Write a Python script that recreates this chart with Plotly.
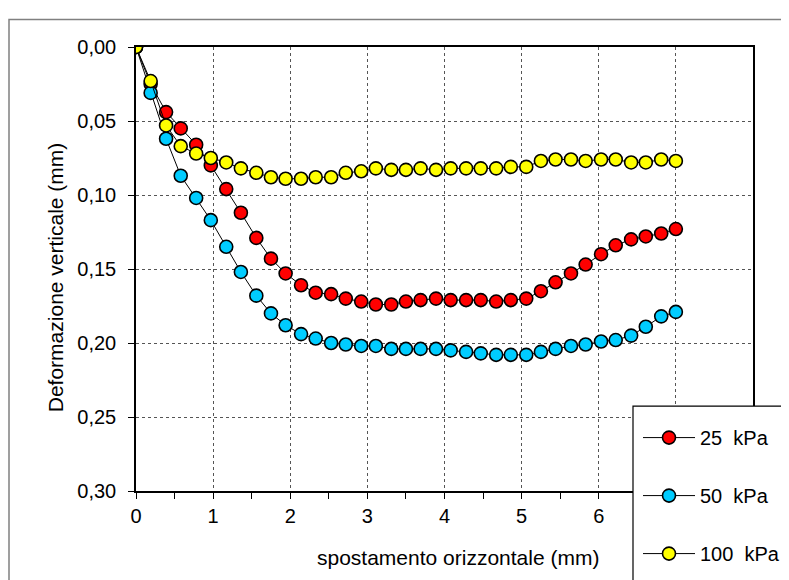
import plotly.graph_objects as go

# ---- data ----
x_mm = [0.00, 0.19, 0.39, 0.58, 0.78, 0.97, 1.17, 1.36, 1.56, 1.75, 1.94, 2.14, 2.33,
        2.53, 2.72, 2.92, 3.11, 3.31, 3.50, 3.69, 3.89, 4.08, 4.28, 4.47, 4.67, 4.86,
        5.06, 5.25, 5.44, 5.64, 5.83, 6.03, 6.22, 6.42, 6.61, 6.81, 7.00]

def_25kpa = [0.000, 0.025, 0.044, 0.055, 0.066, 0.080, 0.096, 0.112, 0.129, 0.143, 0.153,
             0.161, 0.166, 0.167, 0.170, 0.172, 0.174, 0.174, 0.172, 0.171, 0.170, 0.171,
             0.171, 0.171, 0.172, 0.171, 0.170, 0.165, 0.159, 0.153, 0.147, 0.140, 0.134,
             0.130, 0.128, 0.126, 0.123]

def_50kpa = [0.000, 0.031, 0.062, 0.087, 0.102, 0.117, 0.135, 0.152, 0.168, 0.180, 0.188,
             0.194, 0.197, 0.200, 0.201, 0.202, 0.202, 0.204, 0.204, 0.204, 0.204, 0.205,
             0.206, 0.207, 0.208, 0.208, 0.208, 0.206, 0.204, 0.202, 0.201, 0.199, 0.198,
             0.195, 0.189, 0.182, 0.179]

def_100kpa = [0.000, 0.023, 0.053, 0.067, 0.072, 0.075, 0.078, 0.082, 0.085, 0.088, 0.089,
              0.089, 0.088, 0.088, 0.085, 0.084, 0.082, 0.083, 0.083, 0.082, 0.083, 0.082,
              0.082, 0.082, 0.082, 0.081, 0.081, 0.077, 0.076, 0.076, 0.077, 0.076, 0.076,
              0.078, 0.078, 0.076, 0.077]

series_names = ["25\u00a0 kPa", "50\u00a0 kPa", "100\u00a0 kPa"]
series_values = [def_25kpa, def_50kpa, def_100kpa]
series_colors = ["#FF0000", "#00CCFF", "#FFFF00"]

# x tick labels (7 and 8 are hidden behind the legend box in the reference)
x_tick_vals = [0, 1, 2, 3, 4, 5, 6, 7, 8]
x_tick_text = ["0", "1", "2", "3", "4", "5", "6", "", ""]

x_title = "spostamento orizzontale (mm)"
y_title = "Deformazione verticale (mm)"

# ---- figure ----
FONT = "Arial, 'Liberation Sans', sans-serif"
OFF = 8  # page body margin offset (screen = figure + OFF)
W, H = 789 - OFF, 580 - OFF
# plot area in screen pixels: x 136..753, y 46.5..491
L = 136 - OFF
T = 46.5 - OFF
R = W - (753 - OFF)
B = H - (491 - OFF)
PW, PH = W - L - R, H - T - B


def sx(px):
    """screen x pixel -> paper x"""
    return (px - OFF - L) / PW


def sy(py):
    """screen y pixel -> paper y"""
    return (H - B - (py - OFF)) / PH


fig = go.Figure()
for i, (name, vals, col) in enumerate(zip(series_names, series_values, series_colors)):
    fig.add_trace(go.Scatter(
        x=x_mm, y=vals, name=name, mode="lines+markers",
        legendgroup=f"g{i}",
        line=dict(color="#000000", width=1),
        marker=dict(symbol="circle", size=13, color=col,
                    line=dict(color="#000000", width=1.6)),
    ))

fig.update_layout(
    width=W, height=H,
    margin=dict(l=L, r=R, t=T, b=B, autoexpand=False),
    paper_bgcolor="white", plot_bgcolor="white",
    separators=",.",
    font=dict(family=FONT, size=20, color="#000000"),
    showlegend=True,
    legend=dict(
        x=sx(638), y=sy(418), xanchor="left", yanchor="top",
        bgcolor="rgba(0,0,0,0)", borderwidth=0,
        font=dict(family=FONT, size=20, color="#000000"),
        tracegroupgap=29, itemwidth=52,
    ),
)

fig.update_xaxes(
    range=[0, 8], tickmode="array", tickvals=x_tick_vals, ticktext=x_tick_text,
    showline=True, linecolor="#000000", linewidth=1.5, mirror=True,
    ticks="outside", ticklen=6, tickcolor="#000000", tickwidth=1,
    minor=dict(dtick=0.5, ticks="outside", ticklen=6, tickcolor="#000000", showgrid=False),
    showgrid=True, gridcolor="#555555", gridwidth=1, griddash="dot",
    zeroline=False,
    tickfont=dict(family=FONT, size=20, color="#000000"),
)
fig.update_yaxes(
    range=[0.30, 0.0], dtick=0.05, tick0=0, tickformat=".2f",
    showline=True, linecolor="#000000", linewidth=1.5, mirror=True,
    ticks="outside", ticklen=6, tickcolor="#000000", tickwidth=1,
    ticklabelstandoff=8,
    showgrid=True, gridcolor="#555555", gridwidth=1, griddash="dot",
    zeroline=False,
    tickfont=dict(family=FONT, size=20, color="#000000"),
)

# axis titles as annotations
fig.add_annotation(text=x_title, xref="paper", yref="paper",
                   x=sx(458), y=sy(558),
                   xanchor="center", yanchor="middle", showarrow=False,
                   font=dict(family=FONT, size=21, color="#000000"))
fig.add_annotation(text=y_title, xref="paper", yref="paper",
                   x=sx(55), y=sy(277), textangle=-90,
                   xanchor="center", yanchor="middle", showarrow=False,
                   font=dict(family=FONT, size=21, color="#000000"))

# outer chart frame
fig.add_shape(type="rect", xref="paper", yref="paper",
              x0=sx(9), x1=sx(805), y0=sy(600), y1=sy(19),
              line=dict(color="#808080", width=1.5), fillcolor="rgba(0,0,0,0)",
              layer="below")
# legend box (white, covering the right end of the x axis)
fig.add_shape(type="rect", xref="paper", yref="paper",
              x0=sx(633), x1=sx(805), y0=sy(600), y1=sy(406),
              line=dict(color="#000000", width=1.2), fillcolor="white",
              layer="above")

fig.write_html("out.html")
